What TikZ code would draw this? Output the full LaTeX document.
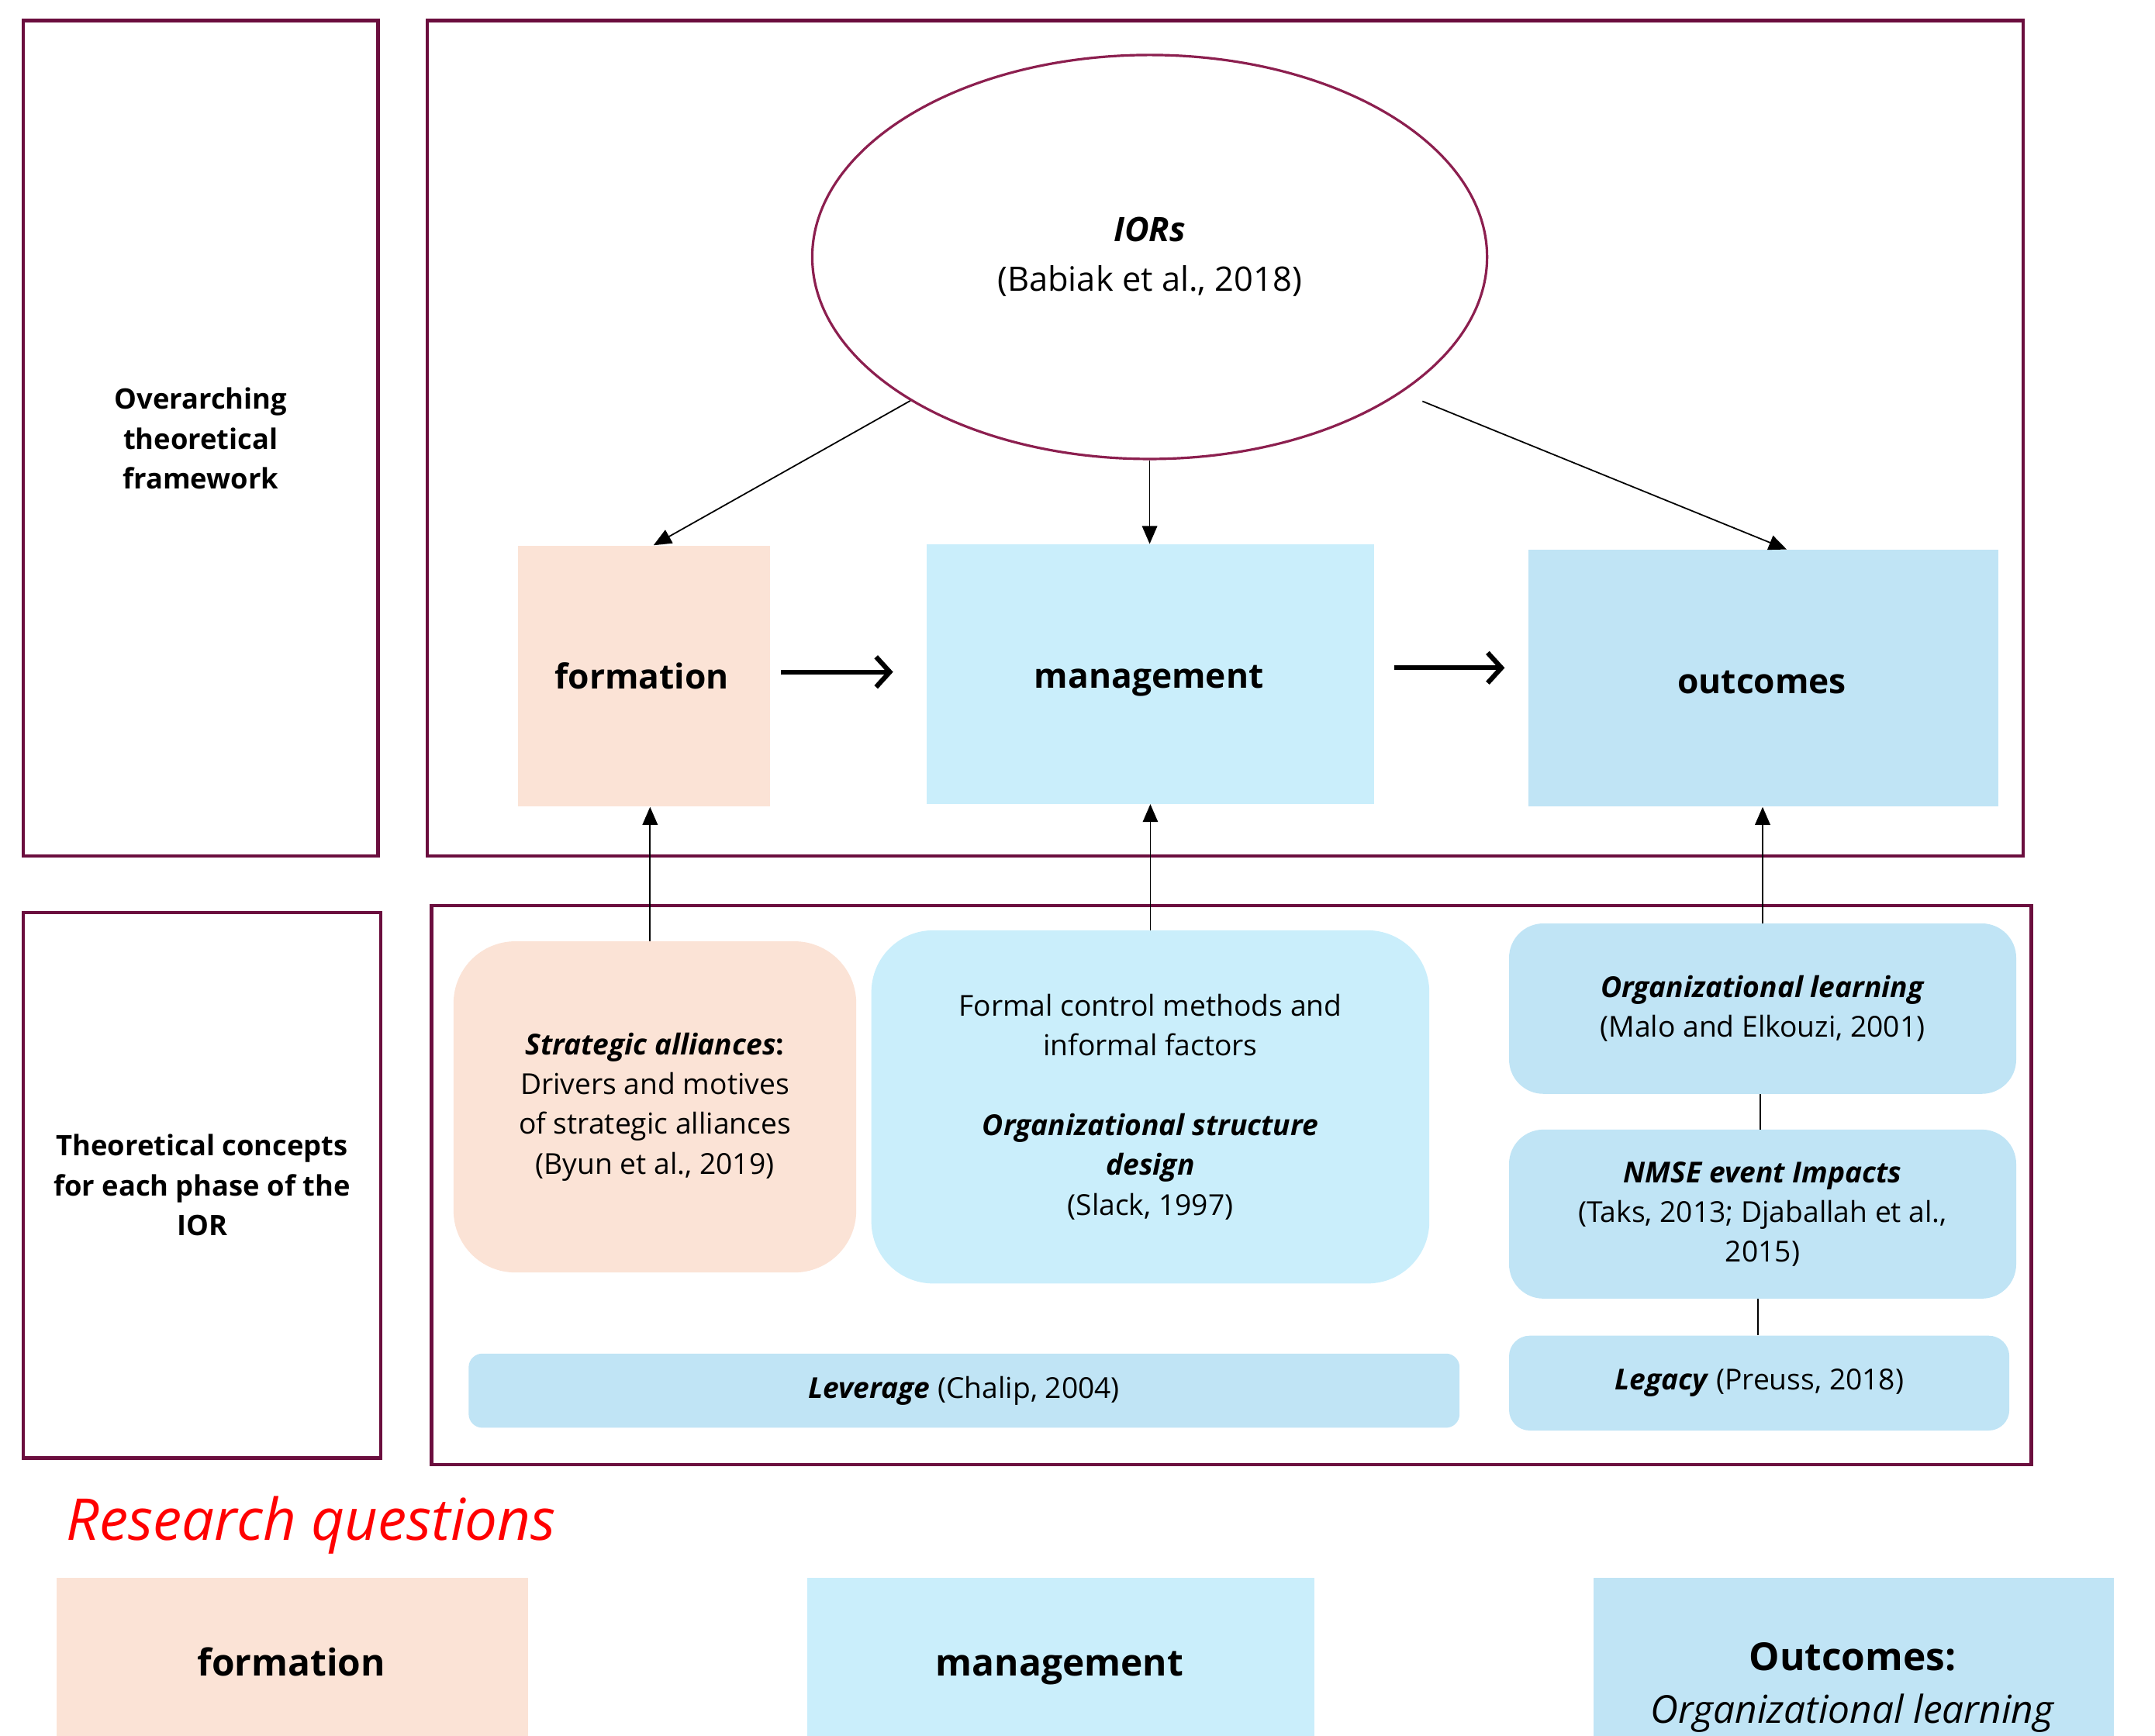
\documentclass[tikz,border=0pt]{standalone}
\usepackage{fontspec}
\setmainfont{Open Sans}
\usetikzlibrary{arrows.meta,shapes.geometric}
\definecolor{framecol}{HTML}{6B0E3E}
\definecolor{ovalcol}{HTML}{8C1F4F}
\definecolor{peach}{HTML}{FBE3D6}
\definecolor{paleblue}{HTML}{CAEEFB}
\definecolor{midblue}{HTML}{C0E4F5}
\begin{document}
\begin{tikzpicture}[x=1pt,y=-1pt,
  framebox/.style={draw=framecol, line width=2.4pt, inner sep=0pt, align=center,
    font=\fontsize{20.5}{29}\selectfont\bfseries},
  phase/.style={inner sep=0pt, font=\fontsize{25}{30}\selectfont\bfseries},
  phaselabel/.style={inner sep=0pt, text height=19pt, text depth=6pt},
  concept/.style={rounded corners=#1, inner sep=0pt, align=center,
    font=\fontsize{21}{29}\selectfont},
  rqbox/.style={inner sep=0pt, anchor=north west},
  thinarrow/.style={-{Triangle[length=13pt,width=11pt]}, line width=1pt},
  thickarrow/.style={-{Straight Barb[length=10pt,width=22pt,line width=3.5pt]}, line width=3.5pt},
  link/.style={line width=1pt}]
\useasboundingbox (0,0) rectangle (1568,1263);

% Frames
\node[framebox, minimum width=258pt, minimum height=608pt] (over) at (146,319) {Overarching\\theoretical\\framework};
\node[framebox, minimum width=1161pt, minimum height=608pt] (topframe) at (891.5,319) {};
\node[framebox, minimum width=260pt, minimum height=397pt] (concepts) at (147,862.5) {Theoretical concepts\\for each phase of the\\IOR};
\node[framebox, minimum width=1164pt, minimum height=407pt] (botframe) at (896,862.5) {};

% IORs and the three phases
\node[ellipse, draw=ovalcol, line width=1.8pt, minimum width=491pt, minimum height=294pt, inner sep=0pt,
  align=center, font=\fontsize{24.5}{30}\selectfont] (ior) at (836.5,187) {\textbf{\textit{IORs}}\\[6pt](Babiak et al., 2018)};
\node[phase, fill=peach, minimum width=183pt, minimum height=190pt] (form) at (468.5,492) {};
\node[phase, fill=paleblue, minimum width=326pt, minimum height=189pt] (mgmt) at (837,490.5) {};
\node[phase, fill=midblue, minimum width=342pt, minimum height=187pt] (outc) at (1283,493.5) {};
\node[phase, phaselabel] (formtxt) at (467,495) {formation};
\node[phase, phaselabel] (mgmttxt) at (836,494) {management};
\node[phase, phaselabel] (outctxt) at (1282,498) {outcomes};
\coordinate (iorout) at (1035,292);

\draw[thinarrow] (ior.211) -- ([xshift=7pt]form.north);
\draw[thinarrow] (ior.south) -- (ior.south |- mgmt.north);
\draw[thinarrow] (iorout) -- ([xshift=17pt]outc.north);
\draw[thickarrow] ([xshift=8pt,yshift=3pt]form.east) -- ([xshift=-24pt,yshift=3pt]form.east -| mgmt.west);
\draw[thickarrow] ([xshift=14pt,yshift=4.5pt]mgmt.east) -- ([xshift=-17pt,yshift=4.5pt]mgmt.east -| outc.west);

% Theoretical concepts
\node[concept=45pt, fill=peach, minimum width=293pt, minimum height=241pt] (sa) at (476.5,805.5)
  {\textbf{\textit{Strategic alliances}:}\\Drivers and motives\\of strategic alliances\\(Byun et al., 2019)};
\node[concept=45pt, fill=paleblue, minimum width=406pt, minimum height=257pt] (fc) at (837,805.5)
  {Formal control methods and\\informal factors\\[29pt]\textbf{\textit{Organizational structure}}\\\textbf{\textit{design}}\\(Slack, 1997)};
\node[concept=25pt, fill=midblue, minimum width=369pt, minimum height=124pt] (ol) at (1282.5,734)
  {\textbf{\textit{Organizational learning}}\\(Malo and Elkouzi, 2001)};
\node[concept=25pt, fill=midblue, minimum width=369pt, minimum height=123pt] (nmse) at (1282.5,883.5)
  {\textbf{\textit{NMSE event Impacts}}\\(Taks, 2013; Djaballah et al.,\\2015)};
\node[concept=15pt, fill=midblue, minimum width=364pt, minimum height=69pt] (leg) at (1280,1006.5)
  {\textbf{\textit{Legacy}} (Preuss, 2018)};
\node[concept=10pt, fill=midblue, minimum width=721pt, minimum height=54pt] (lev) at (701.5,1012)
  {\textbf{\textit{Leverage}} (Chalip, 2004)};

\draw[thinarrow] ([xshift=-3.5pt]sa.north) -- ([xshift=-3.5pt]sa.north |- form.south);
\draw[thinarrow] (fc.north) -- (fc.north |- mgmt.south);
\draw[thinarrow] (ol.north) -- (ol.north |- outc.south);
\draw[link] ([xshift=-1.5pt]ol.south) -- ([xshift=-1.5pt]ol.south |- nmse.north);
\draw[link] ([xshift=-3.5pt]nmse.south) -- ([xshift=-3.5pt]nmse.south |- leg.north);

% Research questions
\node[anchor=west, inner sep=0pt, text=red, font=\fontsize{42}{48}\selectfont\itshape] (rq) at (48,1110) {Research questions};
\node[rqbox, fill=peach, minimum width=343pt, minimum height=130pt] (rqform) at (41,1148) {};
\node[rqbox, fill=paleblue, minimum width=369pt, minimum height=130pt] (rqmgmt) at (587,1148) {};
\node[rqbox, fill=midblue, minimum width=379pt, minimum height=130pt] (rqoutc) at (1159,1148) {};
\node[font=\fontsize{27}{38}\selectfont\bfseries, phaselabel] (rqformtxt) at (212,1213) {formation};
\node[font=\fontsize{27}{38}\selectfont\bfseries, phaselabel] (rqmgmttxt) at (771,1213) {management};
\node[font=\fontsize{28}{38}\selectfont, inner sep=0pt, align=center] (rqoutctxt) at (1348,1228)
  {\textbf{Outcomes:}\\\textit{Organizational learning}};
\end{tikzpicture}
\end{document}
